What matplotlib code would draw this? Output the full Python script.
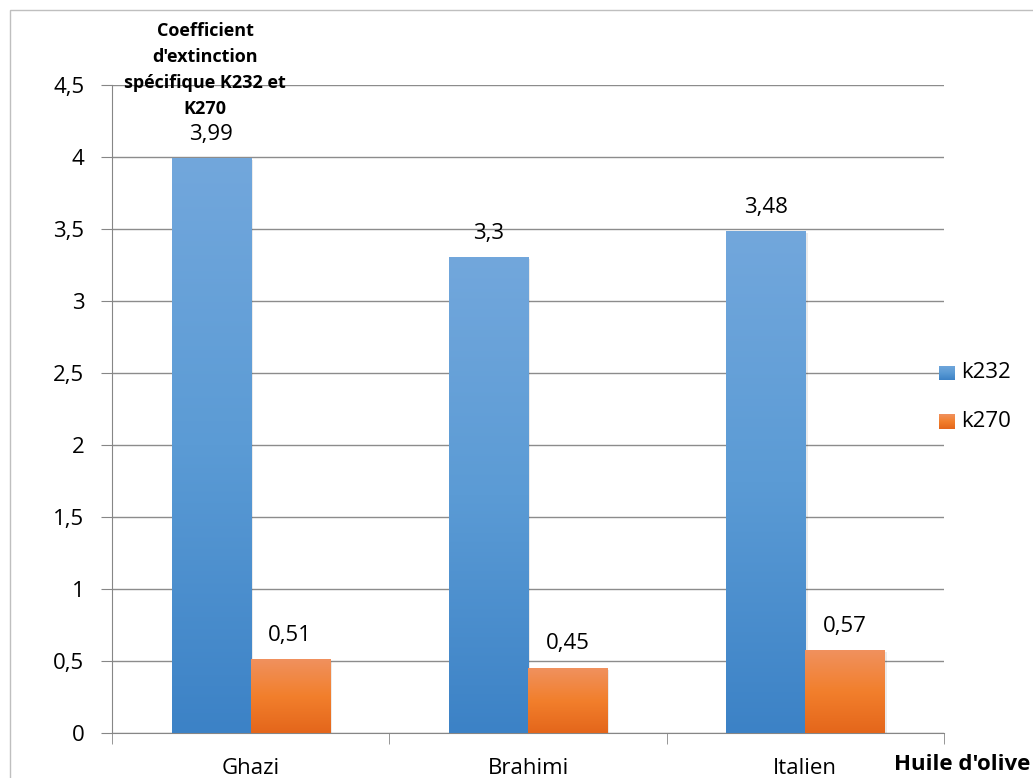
import numpy as np
import matplotlib.pyplot as plt
from matplotlib.patches import Rectangle
from matplotlib.colors import LinearSegmentedColormap

plt.rcParams['font.family'] = ['Open Sans', 'DejaVu Sans']

# data
huiles = ["Ghazi", "Brahimi", "Italien"]
k232 = [3.99, 3.3, 3.48]
k270 = [0.51, 0.45, 0.57]
k232_labels = ["3,99", "3,3", "3,48"]
k270_labels = ["0,51", "0,45", "0,57"]
y_ticks = [0, 0.5, 1, 1.5, 2, 2.5, 3, 3.5, 4, 4.5]
y_tick_labels = ["0", "0,5", "1", "1,5", "2", "2,5", "3", "3,5", "4", "4,5"]

blue_grad = LinearSegmentedColormap.from_list("b", ["#3c82c6", "#5b9bd5", "#72a7dc"])
orange_grad = LinearSegmentedColormap.from_list("o", ["#e4661b", "#f27f2c", "#f0915e"])

fig = plt.figure(figsize=(10.33, 7.78), dpi=100)
# chart frame
fig.patches.append(Rectangle((10 / 1033, -0.1), 1.1, 1 - 10 / 778 + 0.1,
                             transform=fig.transFigure, fill=False,
                             edgecolor="#bfbfbf", linewidth=1))

ax = fig.add_axes([112 / 1033, 1 - 733 / 778, (944 - 112) / 1033, (733 - 85) / 778])

x = np.arange(len(huiles))
w = 0.285
bars1 = ax.bar(x - w / 2, k232, w, color="none", zorder=3, label="k232")
bars2 = ax.bar(x + w / 2, k270, w, color="none", zorder=3, label="k270")

grad = np.linspace(0, 1, 256).reshape(-1, 1)
for bars, cmap in [(bars1, blue_grad), (bars2, orange_grad)]:
    for b in bars:
        x0, y0 = b.get_x(), b.get_y()
        bw, bh = b.get_width(), b.get_height()
        # soft shadow
        ax.add_patch(Rectangle((x0 + 0.008, y0), bw, bh - 0.01, color="#000000",
                               alpha=0.08, zorder=2, linewidth=0))
        ax.imshow(grad, extent=(x0, x0 + bw, y0, y0 + bh), origin="lower",
                  cmap=cmap, aspect="auto", zorder=3)

for i in range(len(huiles)):
    ax.text(x[i] - w / 2, k232[i] + 0.13, k232_labels[i], ha="center", va="baseline",
            fontsize=16, color="#000000")
    ax.text(x[i] + w / 2, k270[i] + 0.13, k270_labels[i], ha="center", va="baseline",
            fontsize=16, color="#000000")

ax.set_xlim(-0.5, 2.5)
ax.set_ylim(0, 4.5)
ax.set_yticks(y_ticks)
ax.set_yticklabels(y_tick_labels, fontsize=16)
ax.set_xticks(x)
ax.set_xticklabels(huiles, fontsize=16)
ax.set_xticks([-0.5, 0.5, 1.5, 2.5], minor=True)
ax.tick_params(axis="x", which="major", length=0, pad=18)
ax.tick_params(axis="x", which="minor", length=8, color="#868686", direction="out")
ax.tick_params(axis="y", length=8, color="#868686", direction="out", pad=12)
ax.grid(axis="y", color="#8c8c8c", linewidth=1, zorder=0)
ax.set_axisbelow(True)
for s in ["top", "right"]:
    ax.spines[s].set_visible(False)
ax.spines["left"].set_color("#868686")
ax.spines["bottom"].set_color("#868686")

fig.text(205 / 1033, 1 - 70 / 778, "Coefficient\nd'extinction\nspécifique K232 et\nK270",
         ha="center", va="center", fontsize=13, fontweight="bold", linespacing=1.55)
fig.text(1030 / 1033, 1 - 770 / 778, "Huile d'olive", ha="right", va="baseline",
         fontsize=16, fontweight="bold")

# legend
for j, (lab, cmap) in enumerate([("k232", blue_grad), ("k270", orange_grad)]):
    yc = 1 - (373 + j * 48.5) / 778
    lax = fig.add_axes([939 / 1033, yc - 7.5 / 778, 16 / 1033, 15 / 778])
    lax.imshow(grad, origin="lower", cmap=cmap, aspect="auto")
    lax.axis("off")
    fig.text(961 / 1033, yc, lab, ha="left", va="center", fontsize=16)

plt.savefig("out.png", dpi=100)
